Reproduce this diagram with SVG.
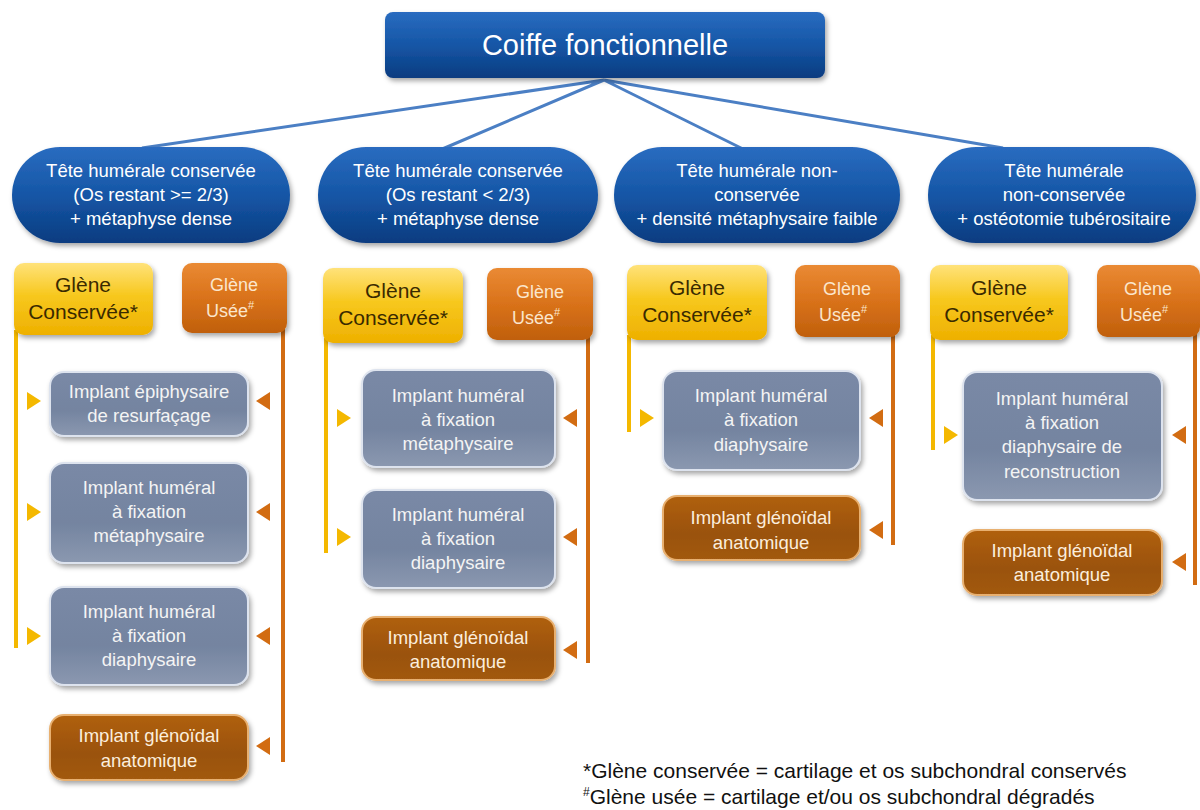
<svg xmlns="http://www.w3.org/2000/svg" width="1200" height="810" viewBox="0 0 1200 810">
<defs>
<linearGradient id="gBlue" x1="0" y1="0" x2="0" y2="1"><stop offset="0" stop-color="#2a6cc0"/><stop offset="0.5" stop-color="#1556a6"/><stop offset="1" stop-color="#0b3c80"/></linearGradient>
<linearGradient id="gYel" x1="0" y1="0" x2="0" y2="1"><stop offset="0" stop-color="#ffe27a"/><stop offset="0.45" stop-color="#f7c81e"/><stop offset="1" stop-color="#eeb000"/></linearGradient>
<linearGradient id="gOra" x1="0" y1="0" x2="0" y2="1"><stop offset="0" stop-color="#ea8a34"/><stop offset="0.5" stop-color="#d9721a"/><stop offset="1" stop-color="#c0600c"/></linearGradient>
<linearGradient id="gGray" x1="0" y1="0" x2="0" y2="1"><stop offset="0" stop-color="#7a89a6"/><stop offset="0.6" stop-color="#7484a0"/><stop offset="1" stop-color="#8b98b0"/></linearGradient>
<linearGradient id="gBrown" x1="0" y1="0" x2="0" y2="1"><stop offset="0" stop-color="#b0600e"/><stop offset="0.6" stop-color="#9a5208"/><stop offset="1" stop-color="#a25a12"/></linearGradient>
<filter id="sh" x="-10%" y="-10%" width="125%" height="130%"><feDropShadow dx="2" dy="3" stdDeviation="2.5" flood-color="#000" flood-opacity="0.35"/></filter>
<style>
.t{font-family:"Liberation Sans","DejaVu Sans",sans-serif;text-anchor:middle}
.cap{fill:url(#gBlue);filter:url(#sh)}
.capT{fill:#ffffff;font-size:18.5px}
.yel{fill:url(#gYel);filter:url(#sh)}
.yelT{fill:#3a2a00;font-size:21px}
.ora{fill:url(#gOra);filter:url(#sh)}
.oraT{fill:#fbe6cc;font-size:18px}
.gray{fill:url(#gGray);stroke:#dde3ee;stroke-width:2;filter:url(#sh)}
.grayT{fill:#f4f4f4;font-size:18.5px}
.brn{fill:url(#gBrown);stroke:#e8b070;stroke-width:2;filter:url(#sh)}
.brnT{fill:#fbeedd;font-size:18.5px}
.blueLine{stroke:#4b7fc4;stroke-width:3;fill:none}
.yLine{stroke:#f4b800;stroke-width:4;fill:none}
.oLine{stroke:#d26c12;stroke-width:4;fill:none}
.yTri{fill:#f4b800}
.oTri{fill:#d26c12}
</style>
</defs>
<rect width="1200" height="810" fill="#ffffff"/>

<g id="connectors">
<path class="blueLine" d="M604 80 L142 148 M604 80 L440 150 M604 80 L745 150 M604 80 L1003 148"/>
<path class="yLine" d="M16 330 V648 M326 338 V553 M629 335 V432 M933 335 V450"/>
<path class="oLine" d="M283 328 V762 M588 335 V663 M893 333 V545 M1195 333 V585"/>
<g class="yTri">
<polygon points="27,392 27,410 41,401"/><polygon points="27,503 27,521 41,512"/><polygon points="27,627 27,645 41,636"/>
<polygon points="337,409 337,427 351,418"/><polygon points="337,528 337,546 351,537"/>
<polygon points="640,409 640,427 654,418"/>
<polygon points="944,426 944,444 958,435"/>
</g>
<g class="oTri">
<polygon points="270,392 270,410 256,401"/><polygon points="270,503 270,521 256,512"/><polygon points="270,627 270,645 256,636"/><polygon points="270,737 270,755 256,746"/>
<polygon points="577,409 577,427 563,418"/><polygon points="577,528 577,546 563,537"/><polygon points="577,641 577,659 563,650"/>
<polygon points="883,409 883,427 869,418"/><polygon points="883,521 883,539 869,530"/>
<polygon points="1186,426 1186,444 1172,435"/><polygon points="1186,553 1186,571 1172,562"/>
</g>
</g>

<g id="root"><rect x="385" y="12" width="440" height="66" rx="8" class="cap"/><text class="t" x="605" y="55" fill="#fff" font-size="29">Coiffe fonctionnelle</text></g>

<g id="cap1"><rect x="12" y="147" width="278" height="96" rx="48" class="cap"/><text class="t capT"><tspan x="151" y="177">Tête humérale conservée</tspan><tspan x="151" y="201">(Os restant &gt;= 2/3)</tspan><tspan x="151" y="225">+ métaphyse dense</tspan></text></g>
<g id="cap2"><rect x="318" y="147" width="280" height="96" rx="48" class="cap"/><text class="t capT"><tspan x="458" y="177">Tête humérale conservée</tspan><tspan x="458" y="201">(Os restant &lt; 2/3)</tspan><tspan x="458" y="225">+ métaphyse dense</tspan></text></g>
<g id="cap3"><rect x="614" y="147" width="286" height="96" rx="48" class="cap"/><text class="t capT"><tspan x="757" y="177">Tête humérale non-</tspan><tspan x="757" y="201">conservée</tspan><tspan x="757" y="225">+ densité métaphysaire faible</tspan></text></g>
<g id="cap4"><rect x="928" y="147" width="268" height="96" rx="48" class="cap"/><text class="t capT"><tspan x="1064" y="177">Tête humérale</tspan><tspan x="1064" y="201">non-conservée</tspan><tspan x="1064" y="225">+ ostéotomie tubérositaire</tspan></text></g>

<g id="c1-yel"><rect x="14" y="263" width="139" height="72" rx="10" class="yel"/><text class="t yelT"><tspan x="83" y="292">Glène</tspan><tspan x="83" y="319">Conservée*</tspan></text></g>
<g id="c1-ora"><rect x="182" y="263" width="105" height="70" rx="10" class="ora"/><text class="t oraT"><tspan x="234" y="291">Glène</tspan><tspan x="230" y="317">Usée</tspan><tspan font-size="11" dy="-8">#</tspan></text></g>
<g id="c2-yel"><rect x="323" y="268" width="140" height="75" rx="10" class="yel"/><text class="t yelT"><tspan x="393" y="298">Glène</tspan><tspan x="393" y="325">Conservée*</tspan></text></g>
<g id="c2-ora"><rect x="487" y="268" width="106" height="72" rx="10" class="ora"/><text class="t oraT"><tspan x="540" y="298">Glène</tspan><tspan x="536" y="324">Usée</tspan><tspan font-size="11" dy="-8">#</tspan></text></g>
<g id="c3-yel"><rect x="627" y="265" width="140" height="75" rx="10" class="yel"/><text class="t yelT"><tspan x="697" y="295">Glène</tspan><tspan x="697" y="322">Conservée*</tspan></text></g>
<g id="c3-ora"><rect x="795" y="265" width="105" height="72" rx="10" class="ora"/><text class="t oraT"><tspan x="847" y="295">Glène</tspan><tspan x="843" y="321">Usée</tspan><tspan font-size="11" dy="-8">#</tspan></text></g>
<g id="c4-yel"><rect x="930" y="265" width="138" height="75" rx="10" class="yel"/><text class="t yelT"><tspan x="999" y="295">Glène</tspan><tspan x="999" y="322">Conservée*</tspan></text></g>
<g id="c4-ora"><rect x="1097" y="265" width="103" height="72" rx="10" class="ora"/><text class="t oraT"><tspan x="1148" y="295">Glène</tspan><tspan x="1144" y="321">Usée</tspan><tspan font-size="11" dy="-8">#</tspan></text></g>

<g id="c1-b1"><rect x="50" y="372" width="198" height="64" rx="14" class="gray"/><text class="t grayT"><tspan x="149" y="398">Implant épiphysaire</tspan><tspan x="149" y="422">de resurfaçage</tspan></text></g>
<g id="c1-b2"><rect x="50" y="463" width="198" height="100" rx="14" class="gray"/><text class="t grayT"><tspan x="149" y="494">Implant huméral</tspan><tspan x="149" y="518">à fixation</tspan><tspan x="149" y="542">métaphysaire</tspan></text></g>
<g id="c1-b3"><rect x="50" y="587" width="198" height="98" rx="14" class="gray"/><text class="t grayT"><tspan x="149" y="618">Implant huméral</tspan><tspan x="149" y="642">à fixation</tspan><tspan x="149" y="666">diaphysaire</tspan></text></g>
<g id="c1-b4"><rect x="50" y="715" width="198" height="65" rx="14" class="brn"/><text class="t brnT"><tspan x="149" y="742">Implant glénoïdal</tspan><tspan x="149" y="767">anatomique</tspan></text></g>

<g id="c2-b1"><rect x="362" y="370" width="193" height="97" rx="14" class="gray"/><text class="t grayT"><tspan x="458" y="402">Implant huméral</tspan><tspan x="458" y="426">à fixation</tspan><tspan x="458" y="450">métaphysaire</tspan></text></g>
<g id="c2-b2"><rect x="362" y="490" width="193" height="98" rx="14" class="gray"/><text class="t grayT"><tspan x="458" y="521">Implant huméral</tspan><tspan x="458" y="545">à fixation</tspan><tspan x="458" y="569">diaphysaire</tspan></text></g>
<g id="c2-b3"><rect x="362" y="617" width="193" height="63" rx="14" class="brn"/><text class="t brnT"><tspan x="458" y="644">Implant glénoïdal</tspan><tspan x="458" y="668">anatomique</tspan></text></g>

<g id="c3-b1"><rect x="663" y="371" width="197" height="99" rx="14" class="gray"/><text class="t grayT"><tspan x="761" y="402">Implant huméral</tspan><tspan x="761" y="426">à fixation</tspan><tspan x="761" y="451">diaphysaire</tspan></text></g>
<g id="c3-b2"><rect x="663" y="496" width="197" height="64" rx="14" class="brn"/><text class="t brnT"><tspan x="761" y="524">Implant glénoïdal</tspan><tspan x="761" y="549">anatomique</tspan></text></g>

<g id="c4-b1"><rect x="963" y="372" width="199" height="128" rx="14" class="gray"/><text class="t grayT"><tspan x="1062" y="405">Implant huméral</tspan><tspan x="1062" y="429">à fixation</tspan><tspan x="1062" y="453">diaphysaire de</tspan><tspan x="1062" y="478">reconstruction</tspan></text></g>
<g id="c4-b2"><rect x="963" y="530" width="199" height="65" rx="14" class="brn"/><text class="t brnT"><tspan x="1062" y="557">Implant glénoïdal</tspan><tspan x="1062" y="581">anatomique</tspan></text></g>

<g id="footnote" font-family="'Liberation Sans','DejaVu Sans',sans-serif" font-size="21" fill="#111" xml:space="preserve">
<text x="583" y="778">*Glène conservée = cartilage et os subchondral  conservés</text>
<text x="583" y="804"><tspan font-size="12" dy="-8">#</tspan><tspan dy="8">Glène usée = cartilage et/ou os subchondral  dégradés</tspan></text>
</g>
</svg>
